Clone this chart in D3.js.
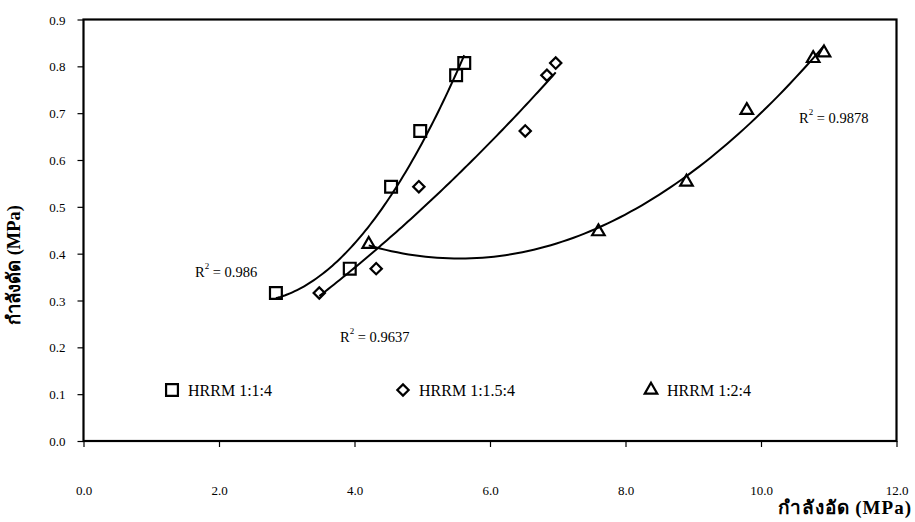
<!DOCTYPE html>
<html>
<head>
<meta charset="utf-8">
<script src="https://cdn.jsdelivr.net/npm/d3@7"></script>
<style>
  html, body { margin: 0; padding: 0; background: #fff; }
  svg { display: block; }
  text { font-family: "Liberation Serif", "Times New Roman", serif; fill: #000; }
</style>
</head>
<body>
<svg id="chart" width="915" height="522"></svg>
<script>
// Compressive strength (x, MPa) against flexural strength (y, MPa) for three mixes
const seriesNames = ["HRRM 1:1:4", "HRRM 1:1.5:4", "HRRM 1:2:4"];
const markerKinds = ["square", "diamond", "triangle"];

const mix114X = [2.84, 3.93, 4.54, 4.97, 5.50, 5.62];
const mix114Y = [0.316, 0.368, 0.543, 0.662, 0.781, 0.807];

const mix1154X = [3.48, 4.32, 4.95, 6.52, 6.84, 6.97];
const mix1154Y = [0.316, 0.368, 0.543, 0.662, 0.781, 0.807];

const mix124X = [4.21, 7.60, 8.90, 9.79, 10.77, 10.93];
const mix124Y = [0.420, 0.447, 0.553, 0.706, 0.817, 0.829];

const r2Labels = ["0.986", "0.9637", "0.9878"];

const xTicks = [0, 2, 4, 6, 8, 10, 12];
const yTicks = [0, 0.1, 0.2, 0.3, 0.4, 0.5, 0.6, 0.7, 0.8, 0.9];

const xTitle = "กำลังอัด (MPa)";
const yTitle = "กำลังดัด (MPa)";

const svg = d3.select("#chart");
const plotLeft = 83.5, plotRight = 896.5, plotTop = 19.5, plotBottom = 441;

const x = d3.scaleLinear().domain([0, 12]).range([plotLeft, plotRight]);
const y = d3.scaleLinear().domain([0, 0.9]).range([plotBottom, plotTop]);

// Least-squares 2nd order polynomial (Excel-style trendline)
function quadFit(xs, ys) {
  const n = xs.length;
  let s = [0, 0, 0, 0, 0], t = [0, 0, 0];
  for (let i = 0; i < n; i++) {
    let p = 1;
    for (let k = 0; k <= 4; k++) { s[k] += p; if (k <= 2) t[k] += p * ys[i]; p *= xs[i]; }
  }
  const A = [[s[0], s[1], s[2], t[0]], [s[1], s[2], s[3], t[1]], [s[2], s[3], s[4], t[2]]];
  for (let c = 0; c < 3; c++) {
    let piv = c;
    for (let r = c + 1; r < 3; r++) if (Math.abs(A[r][c]) > Math.abs(A[piv][c])) piv = r;
    [A[c], A[piv]] = [A[piv], A[c]];
    for (let r = 0; r < 3; r++) {
      if (r === c) continue;
      const f = A[r][c] / A[c][c];
      for (let k = c; k < 4; k++) A[r][k] -= f * A[c][k];
    }
  }
  const a0 = A[0][3] / A[0][0], a1 = A[1][3] / A[1][1], a2 = A[2][3] / A[2][2];
  return v => a0 + a1 * v + a2 * v * v;
}

const series = [
  { xs: mix114X, ys: mix114Y },
  { xs: mix1154X, ys: mix1154Y },
  { xs: mix124X, ys: mix124Y }
].map((s, i) => ({ ...s, name: seriesNames[i], kind: markerKinds[i], r2: r2Labels[i] }));

// Axes
const gy = svg.append("g").attr("transform", `translate(${plotLeft},0)`)
  .call(d3.axisLeft(y).tickValues(yTicks).tickFormat(d3.format(".1f")).tickSizeOuter(0).tickSize(6).tickPadding(12));
gy.select(".domain").remove();
gy.selectAll(".tick line").attr("stroke", "#000").attr("stroke-width", 1.2);
gy.selectAll(".tick text").style("font-size", "13px").attr("dy", "0.35em");

const gx = svg.append("g").attr("transform", `translate(0,${plotBottom})`)
  .call(d3.axisBottom(x).tickValues(xTicks).tickFormat(d3.format(".1f")).tickSizeOuter(0).tickSize(6).tickPadding(39));
gx.select(".domain").remove();
gx.selectAll(".tick line").attr("stroke", "#000").attr("stroke-width", 1.2);
gx.selectAll(".tick text").style("font-size", "13px");

// Plot frame
svg.append("rect")
  .attr("x", plotLeft).attr("y", plotTop)
  .attr("width", plotRight - plotLeft).attr("height", plotBottom - plotTop)
  .attr("fill", "none").attr("stroke", "#000").attr("stroke-width", 2.2);

// Trendlines
const line = d3.line().x(d => x(d[0])).y(d => y(d[1]));
series.forEach(s => {
  const f = quadFit(s.xs, s.ys);
  const [lo, hi] = d3.extent(s.xs);
  const pts = d3.range(0, 81).map(k => { const v = lo + (hi - lo) * k / 80; return [v, f(v)]; });
  svg.append("path").datum(pts).attr("d", line)
    .attr("fill", "none").attr("stroke", "#000").attr("stroke-width", 2);
});

// Markers: square, diamond (square turned 45°), triangle
const symbolType = { square: d3.symbolSquare, diamond: d3.symbolSquare, triangle: d3.symbolTriangle };
const symbolSize = { square: 140, diamond: 64, triangle: 68 };
const symbolTurn = { square: 0, diamond: 45, triangle: 0 };
function drawMarker(g, kind, cx, cy) {
  g.append("path")
    .attr("d", d3.symbol().type(symbolType[kind]).size(symbolSize[kind])())
    .attr("transform", `translate(${cx},${cy}) rotate(${symbolTurn[kind]})`)
    .attr("fill", "none")
    .attr("stroke", "#000").attr("stroke-width", 2.2);
}
series.forEach(s => {
  const g = svg.append("g");
  s.xs.forEach((xv, i) => drawMarker(g, s.kind, x(xv), y(s.ys[i])));
});

// R² annotations
const r2Pos = [[195, 277], [340, 342], [799, 123]];
series.forEach((s, i) => {
  const t = svg.append("text").attr("x", r2Pos[i][0]).attr("y", r2Pos[i][1]).style("font-size", "14.5px");
  t.append("tspan").text("R");
  t.append("tspan").attr("dy", -8).style("font-size", "9px").text("2");
  t.append("tspan").attr("dy", 8).text(" = " + s.r2);
});

// Legend
const legendX = [172, 403, 651];
const legendY = 390;
series.forEach((s, i) => {
  const g = svg.append("g");
  drawMarker(g, s.kind, legendX[i], legendY);
  g.append("text").attr("x", legendX[i] + 16).attr("y", legendY + 5.5)
    .style("font-size", "16px").text(s.name);
});

// Axis titles
svg.append("text").attr("x", 912).attr("y", 514).attr("text-anchor", "end")
  .style("font-size", "19px").style("font-weight", "bold").style("letter-spacing", "1px").text(xTitle);
svg.append("text").attr("transform", "translate(20,265) rotate(-90)").attr("text-anchor", "middle")
  .style("font-size", "18.5px").style("font-weight", "bold").text(yTitle);
</script>
</body>
</html>
